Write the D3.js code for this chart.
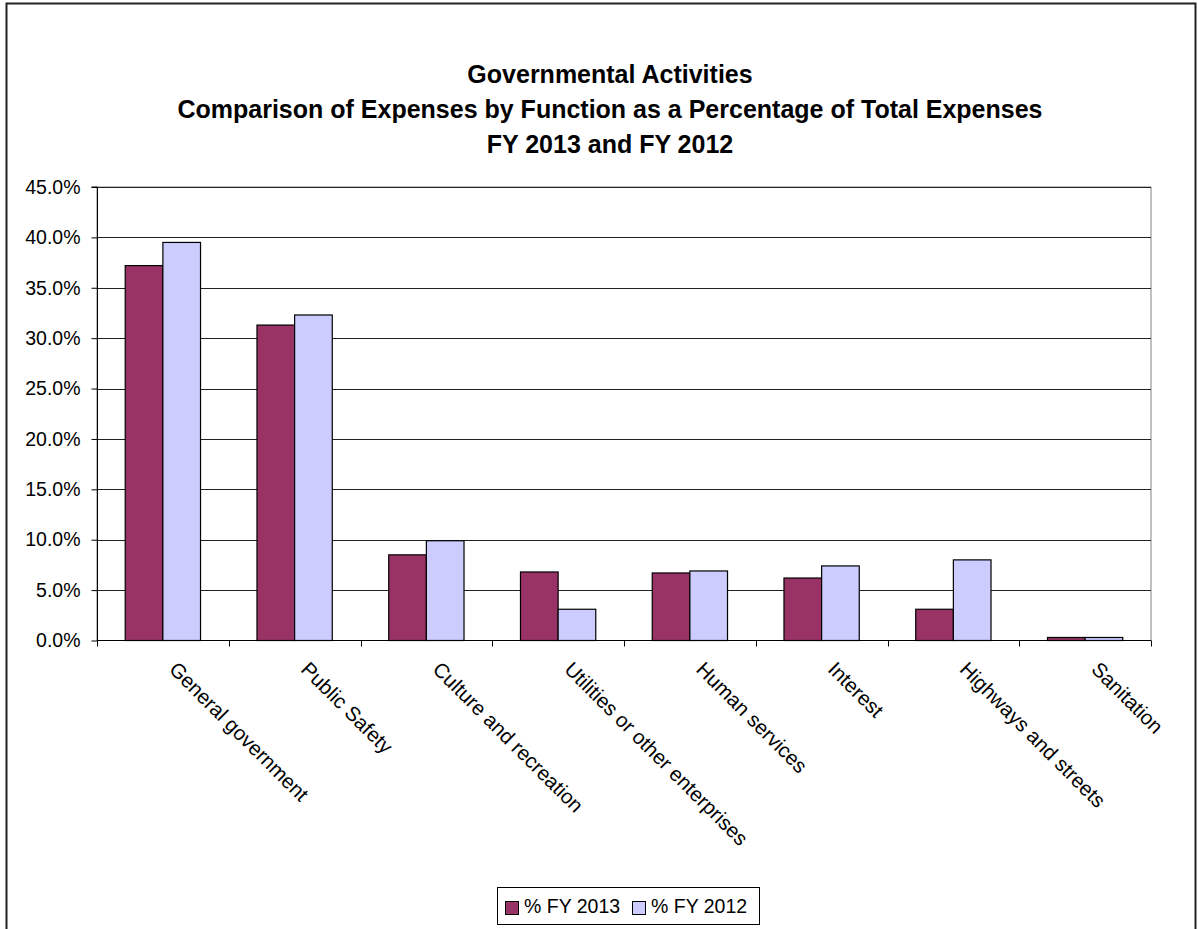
<!DOCTYPE html>
<html>
<head>
<meta charset="utf-8">
<script src="https://cdn.jsdelivr.net/npm/d3@7"></script>
<style>
  html, body { margin: 0; padding: 0; background: #fff; }
  svg { display: block; font-family: Arial, "Liberation Sans", sans-serif; }
</style>
</head>
<body>
<svg id="chart" width="1198" height="929"></svg>
<script>
// Expense functions and their share of total expenses
const categories = [
  "General government", "Public Safety", "Culture and recreation",
  "Utilities or other enterprises", "Human services", "Interest",
  "Highways and streets", "Sanitation"
];
const fy2013 = [0.372, 0.313, 0.085, 0.068, 0.067, 0.062, 0.031, 0.003];
const fy2012 = [0.395, 0.323, 0.099, 0.031, 0.069, 0.074, 0.080, 0.003];
const seriesNames = ["% FY 2013", "% FY 2012"];
const yTicks = [0, 0.05, 0.10, 0.15, 0.20, 0.25, 0.30, 0.35, 0.40, 0.45];
const titleLines = [
  "Governmental Activities",
  "Comparison of Expenses by Function as a Percentage of Total Expenses",
  "FY 2013 and FY 2012"
];

const colors = ["#993366", "#CCCCFF"];
const svg = d3.select("#chart");

// outer chart frame
svg.append("rect")
  .attr("x", 6.5).attr("y", 3.5)
  .attr("width", 1189).attr("height", 940)
  .attr("fill", "#fff").attr("stroke", "#222").attr("stroke-width", 2);

// title
svg.append("g").selectAll("text")
  .data(titleLines).join("text")
  .attr("x", 610)
  .attr("y", (d, i) => 83 + i * 35)
  .attr("text-anchor", "middle")
  .attr("font-weight", "bold")
  .attr("font-size", 25)
  .attr("fill", "#000")
  .text(d => d);

const plot = { left: 97, right: 1151, top: 187, bottom: 640.5 };

const x = d3.scaleBand()
  .domain(categories)
  .range([plot.left, plot.right])
  .paddingInner(0).paddingOuter(0);

// two bars per group with a 150% gap
const barW = x.bandwidth() / 3.5;
const y = d3.scaleLinear().domain([0, 0.45]).range([plot.bottom, plot.top]);

// plot area outline
svg.append("rect")
  .attr("x", plot.left).attr("y", plot.top)
  .attr("width", plot.right - plot.left).attr("height", plot.bottom - plot.top)
  .attr("fill", "none").attr("stroke", "#808080").attr("stroke-width", 1);

// horizontal gridlines
svg.append("g").selectAll("line")
  .data(yTicks.filter(t => t > 0)).join("line")
  .attr("x1", plot.left).attr("x2", plot.right)
  .attr("y1", d => Math.round(y(d)) + 0.5).attr("y2", d => Math.round(y(d)) + 0.5)
  .attr("stroke", "#222").attr("stroke-width", 1);

// bars
const series = [fy2013, fy2012];
series.forEach((vals, s) => {
  svg.append("g").selectAll("rect")
    .data(vals).join("rect")
    .attr("x", (d, i) => x(categories[i]) + barW * 0.75 + s * barW)
    .attr("y", d => y(d))
    .attr("width", barW)
    .attr("height", d => plot.bottom - y(d))
    .attr("fill", colors[s])
    .attr("stroke", "#000").attr("stroke-width", 1.2);
});

// y axis
const yAxis = d3.axisLeft(y)
  .tickValues(yTicks)
  .tickFormat(d3.format(".1%"))
  .tickSize(6).tickPadding(11);
const gy = svg.append("g")
  .attr("transform", `translate(${plot.left + 0.5},0)`)
  .call(yAxis);
gy.select(".domain").attr("stroke", "#000").attr("d", `M-6,${plot.top}H0V${plot.bottom}`);
gy.selectAll(".tick line").attr("stroke", "#000");
gy.selectAll(".tick text")
  .attr("font-size", 19.5).attr("font-family", "Arial, 'Liberation Sans', sans-serif")
  .attr("fill", "#000");

// x axis with ticks at group boundaries
const gx = svg.append("g").attr("transform", `translate(0,${plot.bottom})`);
gx.append("line")
  .attr("x1", plot.left).attr("x2", plot.right)
  .attr("y1", 0).attr("y2", 0)
  .attr("stroke", "#000").attr("stroke-width", 1.2);
const bounds = categories.map(c => x(c)).concat([plot.right]);
gx.selectAll("line.tk")
  .data(bounds).join("line").attr("class", "tk")
  .attr("x1", d => Math.round(d) + 0.5).attr("x2", d => Math.round(d) + 0.5)
  .attr("y1", 0).attr("y2", 6)
  .attr("stroke", "#000");
gx.selectAll("text")
  .data(categories).join("text")
  .attr("transform", d => `translate(${x(d) + x.bandwidth() / 2 + 5},${30}) rotate(45)`)
  .attr("text-anchor", "start")
  .attr("font-size", 20.5)
  .attr("fill", "#000")
  .text(d => d);

// legend
const lg = svg.append("g");
lg.append("rect")
  .attr("x", 497.5).attr("y", 887.5).attr("width", 262).attr("height", 37)
  .attr("fill", "#fff").attr("stroke", "#000").attr("stroke-width", 1);
const legendX = [505, 632];
seriesNames.forEach((name, i) => {
  lg.append("rect")
    .attr("x", legendX[i] + 0.5).attr("y", 901.5)
    .attr("width", 13).attr("height", 13)
    .attr("fill", colors[i]).attr("stroke", "#000").attr("stroke-width", 1);
  lg.append("text")
    .attr("x", legendX[i] + 19).attr("y", 913)
    .attr("font-size", 19.5).attr("fill", "#000")
    .text(name);
});
</script>
</body>
</html>
